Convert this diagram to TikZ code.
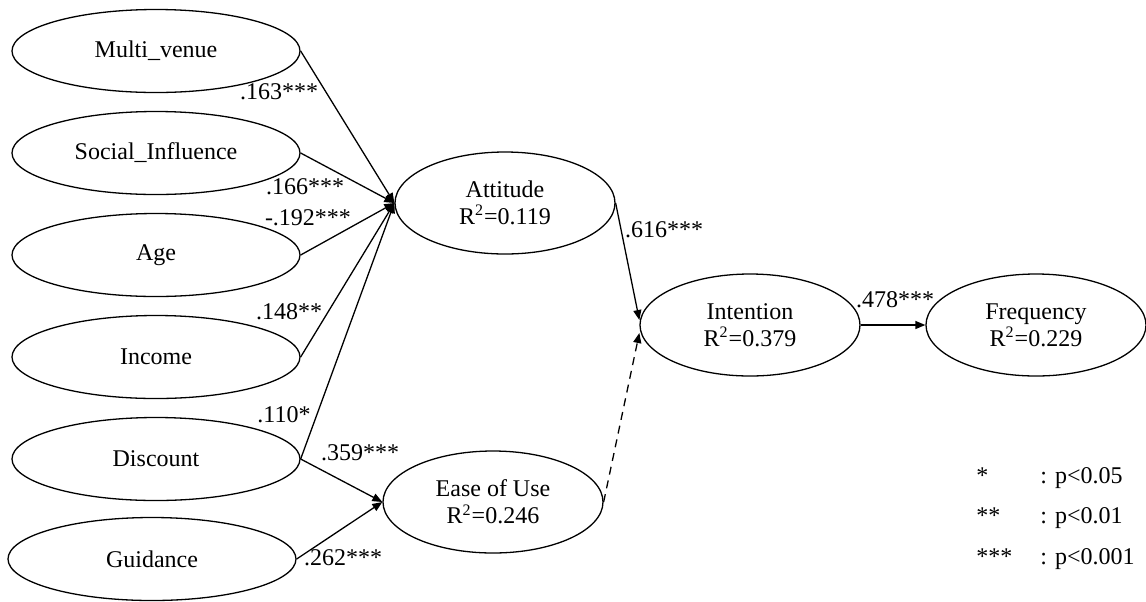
\documentclass[tikz,border=0pt]{standalone}
\usepackage{fontspec}
\setmainfont{Liberation Serif}
\usetikzlibrary{shapes.geometric,arrows.meta}
\begin{document}
\begin{tikzpicture}[x=0.5pt,y=-0.5pt,
  font=\fontsize{12}{13.5}\selectfont,
  construct/.style={ellipse,draw,line width=0.65pt,inner sep=0pt,align=center},
  exo/.style={construct,minimum width=144pt,minimum height=41.5pt},
  endo/.style={construct,minimum width=110pt,minimum height=51pt},
  effect/.style={draw,line width=0.65pt,-{Triangle[length=5pt,width=4pt]}},
  weak/.style={effect,dash pattern=on 4pt off 3pt},
  coef/.style={inner sep=0pt},
  legend/.style={anchor=base west,inner sep=0pt},
]
\useasboundingbox (0,0) rectangle (1146,601);

% exogenous constructs
\node[exo] (mv)   at (156,51)  {Multi\_venue};
\node[exo] (soc)  at (156,153) {Social\_Influence};
\node[exo] (age)  at (156,255) {Age};
\node[exo] (inc)  at (156,357) {Income};
\node[exo] (disc) at (156,459) {Discount};
\node[exo] (guid) at (152,559) {Guidance};

% endogenous constructs
\node[endo] (att)  at (505,203)  {Attitude\\R\textsuperscript{2}=0.119};
\node[endo] (eou)  at (493,502)  {Ease of Use\\R\textsuperscript{2}=0.246};
\node[endo] (int)  at (750,325)  {Intention\\R\textsuperscript{2}=0.379};
\node[endo] (freq) at (1036,325) {Frequency\\R\textsuperscript{2}=0.229};

% structural paths
\draw[effect] (mv.east)   -- (att.west);
\draw[effect] (soc.east)  -- (att.west);
\draw[effect] (age.east)  -- (att.west);
\draw[effect] (inc.east)  -- (att.west);
\draw[effect] (disc.east) -- (att.west);
\draw[effect] (disc.east) -- (eou.west);
\draw[effect] (guid.east) -- (eou.west);
\draw[effect] (att.east)  -- ([yshift=2.5pt]int.west);
\draw[weak]   (eou.east)  -- ([yshift=-4pt]int.west);
\draw[effect] (int.east)  -- (freq.west);

% path coefficients
\node[coef] (c1) at (279,92)  {.163***};
\node[coef] (c2) at (305,187) {.166***};
\node[coef] (c3) at (308,218) {-.192***};
\node[coef] (c4) at (289,312) {.148**};
\node[coef] (c5) at (284,415) {.110*};
\node[coef] (c6) at (360,453) {.359***};
\node[coef] (c7) at (343,558) {.262***};
\node[coef] (c8) at (664,230) {.616***};
\node[coef] (c9) at (895,300) {.478***};

% significance legend
\node[legend] (s1) at (976,483)  {*};
\node[legend] (p1) at (1040,483) {: p<0.05};
\node[legend] (s2) at (976,523)  {**};
\node[legend] (p2) at (1040,523) {: p<0.01};
\node[legend] (s3) at (976,564)  {***};
\node[legend] (p3) at (1040,564) {: p<0.001};
\end{tikzpicture}
\end{document}
